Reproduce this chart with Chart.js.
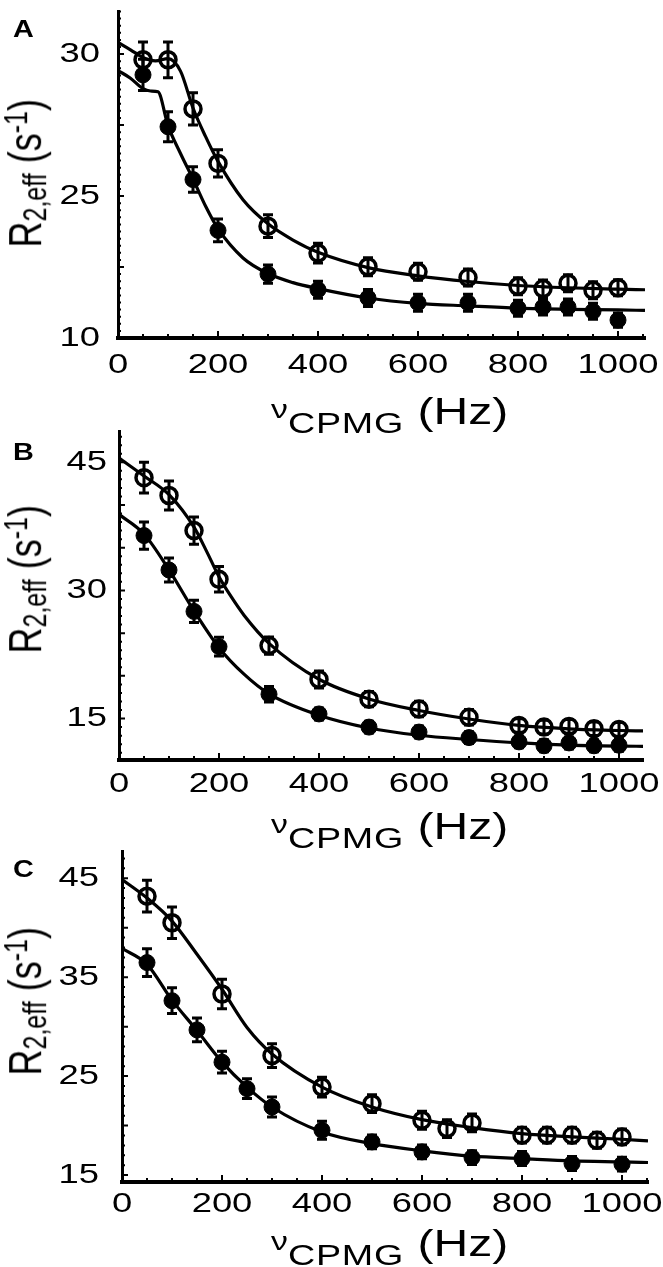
<!DOCTYPE html>
<html lang="en">
<head>
<meta charset="UTF-8">
<title>R2,eff relaxation dispersion</title>
<script src="https://cdn.jsdelivr.net/npm/chart.js"></script>
<style>
  html, body { margin: 0; padding: 0; background: #fff; overflow: hidden; }
  #page { position: relative; width: 663px; height: 1267px; font-family: "Liberation Sans", Arial, sans-serif; color: #000; }
  canvas { position: absolute; left: 0; }
  .letter { position: absolute; left: 13px; font-size: 24px; line-height: 1; font-weight: bold; transform: scaleX(1.2); transform-origin: 0 0; }
  .ytitle { position: absolute; left: 42px; display: flex; align-items: baseline; white-space: pre; transform-origin: 0 30.5px; transform: rotate(-90deg) scaleY(1.3); }
  .ytitle span { line-height: 1; font-size: 36px; }
  .ytitle .sub { font-size: 25px; position: relative; top: 4px; }
  .ytitle .sup { font-size: 25px; position: relative; top: -11px; }
  .xtitle { position: absolute; left: 271px; display: flex; align-items: baseline; white-space: pre; transform-origin: 0 0; transform: scaleX(1.3); }
  .xtitle span { line-height: 1; font-size: 37px; }
  .xtitle .nu { font-size: 26px; position: relative; top: -6px; }
  .xtitle .sub { font-size: 29px; letter-spacing: 0.6px; position: relative; top: 9px; }
</style>
</head>
<body>
<div id="page">
  <canvas id="chartA" width="663" height="400" style="top:0px"></canvas>
  <canvas id="chartB" width="663" height="400" style="top:420px"></canvas>
  <canvas id="chartC" width="663" height="400" style="top:840px"></canvas>

  <div class="letter" style="top:16.7px">A</div>
  <div class="letter" style="top:439.7px">B</div>
  <div class="letter" style="top:856.7px">C</div>

  <div class="ytitle" style="top:216.5px"><span>R</span><span class="sub">2,eff</span><span> (s</span><span class="sup">-1</span><span>)</span></div>
  <div class="ytitle" style="top:622.5px"><span>R</span><span class="sub">2,eff</span><span> (s</span><span class="sup">-1</span><span>)</span></div>
  <div class="ytitle" style="top:1044.5px"><span>R</span><span class="sub">2,eff</span><span> (s</span><span class="sup">-1</span><span>)</span></div>

  <div class="xtitle" style="top:392.7px"><span class="nu">ν</span><span class="sub">CPMG</span><span> (Hz)</span></div>
  <div class="xtitle" style="top:807.7px"><span class="nu">ν</span><span class="sub">CPMG</span><span> (Hz)</span></div>
  <div class="xtitle" style="top:1224.7px"><span class="nu">ν</span><span class="sub">CPMG</span><span> (Hz)</span></div>
</div>
<script>
  // measured CPMG frequencies (Hz)
  const hzAll = [50, 100, 150, 200, 300, 400, 500, 600, 700, 800, 850, 900, 950, 1000];
  const hzOpenC = [50, 100, 200, 300, 400, 500, 600, 650, 700, 800, 850, 900, 950, 1000];
  const hzFilledC = [50, 100, 150, 200, 250, 300, 400, 500, 600, 700, 800, 900, 1000];

  // panel A data (open / filled circles) and errors
  const openA = [29.80, 29.80, 28.07, 26.15, 23.94, 22.99, 22.51, 22.33, 22.13, 21.82, 21.74, 21.93, 21.68, 21.77];
  const openErrA = [0.63, 0.63, 0.57, 0.48, 0.4, 0.35, 0.32, 0.3, 0.3, 0.3, 0.3, 0.3, 0.3, 0.28];
  const filledA = [29.27, 27.44, 25.58, 23.79, 22.25, 21.70, 21.41, 21.24, 21.24, 21.05, 21.09, 21.09, 20.94, 20.63];
  const filledErrA = [0.55, 0.53, 0.45, 0.4, 0.32, 0.3, 0.3, 0.3, 0.3, 0.28, 0.28, 0.28, 0.28, 0.25];

  // panel B
  const openB = [43.19, 41.11, 37.0, 31.3, 23.54, 19.58, 17.27, 16.12, 15.15, 14.19, 14.0, 14.08, 13.81, 13.73];
  const openErrB = [1.8, 1.7, 1.6, 1.5, 1.0, 1.0, 0.9, 0.9, 0.9, 0.8, 0.8, 0.8, 0.8, 0.8];
  const filledB = [36.42, 32.39, 27.54, 23.42, 17.85, 15.54, 14.0, 13.42, 12.77, 12.27, 11.81, 12.15, 11.81, 11.88];
  const filledErrB = [1.6, 1.4, 1.3, 1.1, 0.9, 0.7, 0.7, 0.7, 0.7, 0.7, 0.7, 0.7, 0.7, 0.7];

  // panel C
  const openC = [43.19, 40.5, 33.3, 27.08, 23.89, 22.22, 20.54, 19.70, 20.27, 19.03, 19.03, 19.03, 18.52, 18.86];
  const openErrC = [1.6, 1.6, 1.5, 1.2, 1.0, 0.9, 0.9, 0.9, 0.9, 0.8, 0.8, 0.8, 0.8, 0.8];
  const filledC = [36.47, 32.62, 29.67, 26.41, 23.73, 21.88, 19.53, 18.35, 17.34, 16.77, 16.67, 16.17, 16.1];
  const filledErrC = [1.4, 1.3, 1.2, 1.1, 1.0, 1.0, 0.9, 0.7, 0.7, 0.7, 0.7, 0.7, 0.7];

  // fitted curves
  const fitHzOpenA = [0, 25, 50, 75, 100, 125, 150, 175, 200, 250, 300, 350, 400, 500, 600, 700, 800, 900, 1000, 1054];
  const fitOpenA = [30.41, 30.15, 29.88, 29.76, 29.84, 29.4, 28.1, 27.1, 26.22, 24.87, 24.02, 23.45, 23.02, 22.48, 22.19, 21.99, 21.85, 21.77, 21.72, 21.70];
  const fitHzFilledA = [0, 25, 50, 65, 80, 100, 125, 150, 175, 200, 250, 300, 350, 400, 500, 600, 700, 800, 900, 1000, 1054];
  const fitFilledA = [29.42, 29.15, 28.78, 28.70, 28.67, 27.48, 26.5, 25.6, 24.65, 23.85, 22.82, 22.27, 21.95, 21.74, 21.41, 21.22, 21.13, 21.05, 21.01, 20.99, 20.97];

  const fitHzOpenB = [0, 50, 100, 150, 175, 200, 225, 250, 300, 400, 500, 600, 700, 800, 900, 1000, 1050];
  const fitOpenB = [45.5, 43.4, 41.2, 37.4, 34.6, 31.6, 29.2, 27.1, 23.8, 19.6, 17.3, 15.95, 14.95, 14.2, 13.8, 13.6, 13.55];
  const fitHzFilledB = [0, 50, 100, 150, 200, 250, 300, 400, 500, 600, 700, 800, 900, 1000, 1050];
  const fitFilledB = [38.9, 36.6, 32.4, 27.6, 23.3, 20.2, 17.9, 15.4, 13.9, 13.05, 12.55, 12.15, 11.9, 11.78, 11.75];

  const fitHzC = [0, 50, 100, 150, 200, 250, 300, 400, 500, 600, 700, 800, 900, 1000, 1052];
  const fitOpenC = [44.87, 43.0, 40.67, 37.31, 33.78, 29.92, 27.24, 23.89, 21.88, 20.6, 19.8, 19.19, 18.86, 18.62, 18.45];
  const fitFilledC = [37.9, 36.3, 32.68, 29.6, 26.41, 23.89, 21.88, 19.36, 18.18, 17.45, 16.91, 16.67, 16.44, 16.33, 16.27];

  // tick labels
  const xTickVals = [0, 200, 400, 600, 800, 1000];
  const yTickValsA = [20, 25, 30];
  const yTickTextA = ['10', '25', '30'];
  const yTickValsB = [15, 30, 45];
  const yTickTextB = ['15', '30', '45'];
  const yTickValsC = [15, 25, 35, 45];
  const yTickTextC = ['15', '25', '35', '45'];

  const FONT = '28px "Liberation Sans", Arial, sans-serif';
  const STRETCH = 1.3;

  function pts(xs, ys) {
    return xs.map((x, i) => ({ x: x, y: ys[i] }));
  }

  function stretchedText(ctx, text, x, y, align, baseline) {
    ctx.save();
    ctx.translate(x, y);
    ctx.scale(STRETCH, 1);
    ctx.textAlign = align;
    ctx.textBaseline = baseline;
    ctx.fillText(text, 0, 0);
    ctx.restore();
  }

  // error bars, inward ticks and stretched tick labels
  const decor = {
    id: 'decor',
    afterDatasetsDraw(chart) {
      const { ctx, scales: { x, y } } = chart;
      ctx.save();
      ctx.strokeStyle = '#000';
      ctx.lineWidth = 3;
      chart.data.datasets.forEach(ds => {
        if (!ds.errors) return;
        ds.data.forEach((p, j) => {
          const e = ds.errors[j];
          const px = x.getPixelForValue(p.x);
          const top = y.getPixelForValue(p.y + e);
          const bot = y.getPixelForValue(p.y - e);
          ctx.beginPath();
          ctx.moveTo(px, top); ctx.lineTo(px, bot);
          ctx.moveTo(px - 5, top); ctx.lineTo(px + 5, top);
          ctx.moveTo(px - 5, bot); ctx.lineTo(px + 5, bot);
          ctx.stroke();
        });
      });
      ctx.restore();
    },
    afterDraw(chart, args, o) {
      const { ctx, chartArea: a, scales: { x, y } } = chart;
      ctx.save();
      ctx.strokeStyle = '#000';
      ctx.lineWidth = 2;
      ctx.beginPath();
      for (let v = 0; v <= x.max + 1e-6; v += o.xMinor) {
        const px = x.getPixelForValue(v);
        const len = v % o.xMajor === 0 ? 7 : 4;
        ctx.moveTo(px, a.bottom); ctx.lineTo(px, a.bottom - len);
      }
      for (let v = Math.ceil(y.min / o.yMinor) * o.yMinor; v <= y.max + 1e-6; v += o.yMinor) {
        const py = y.getPixelForValue(v);
        const r = v / o.yMajor;
        const len = Math.abs(r - Math.round(r)) < 1e-6 ? 6 : 3;
        ctx.moveTo(a.left, py); ctx.lineTo(a.left + len, py);
      }
      ctx.stroke();

      ctx.fillStyle = '#000';
      ctx.font = FONT;
      xTickVals.forEach(v => {
        stretchedText(ctx, String(v), x.getPixelForValue(v), a.bottom + o.xBase, 'center', 'alphabetic');
      });
      o.yVals.forEach((v, i) => {
        stretchedText(ctx, o.yText[i], a.left - o.yGap, y.getPixelForValue(v), 'right', 'middle');
      });
      ctx.restore();
    }
  };

  function makePanel(id, p) {
    new Chart(document.getElementById(id), {
      type: 'scatter',
      data: {
        datasets: [
          {
            data: pts(p.openHz, p.open), errors: p.openErr,
            pointStyle: 'circle', pointRadius: 8, borderWidth: 3.5,
            borderColor: '#000', backgroundColor: 'rgba(0,0,0,0)'
          },
          {
            data: pts(p.filledHz, p.filled), errors: p.filledErr,
            pointStyle: 'circle', pointRadius: 8, borderWidth: 1,
            borderColor: '#000', backgroundColor: '#000'
          },
          {
            type: 'line', data: pts(p.fitHzOpen, p.fitOpen),
            borderColor: '#000', borderWidth: 3.2, pointRadius: 0,
            cubicInterpolationMode: 'monotone', fill: false
          },
          {
            type: 'line', data: pts(p.fitHzFilled, p.fitFilled),
            borderColor: '#000', borderWidth: 3.2, pointRadius: 0,
            cubicInterpolationMode: 'monotone', fill: false
          }
        ]
      },
      options: {
        responsive: false,
        animation: false,
        devicePixelRatio: 1,
        events: [],
        layout: { padding: p.pad },
        plugins: {
          legend: { display: false },
          tooltip: { enabled: false },
          decor: {
            xMinor: 50, xMajor: 200, xBase: p.xBase,
            yMinor: p.yMinor, yMajor: p.yMajor,
            yVals: p.yVals, yText: p.yText, yGap: p.yGap
          }
        },
        scales: {
          x: {
            type: 'linear', min: 0, max: p.xMax,
            grid: { display: true, drawOnChartArea: false, drawTicks: false },
            border: { display: true, color: '#000', width: 4 },
            ticks: { display: false },
            afterFit: s => { s.height = 0; }
          },
          y: {
            type: 'linear', min: p.yMin, max: p.yMax,
            grid: { display: true, drawOnChartArea: false, drawTicks: false },
            border: { display: true, color: '#000', width: 3 },
            ticks: { display: false },
            afterFit: s => { s.width = 0; }
          }
        }
      },
      plugins: [decor]
    });
  }

  makePanel('chartA', {
    openHz: hzAll, open: openA, openErr: openErrA,
    filledHz: hzAll, filled: filledA, filledErr: filledErrA,
    fitHzOpen: fitHzOpenA, fitOpen: fitOpenA, fitHzFilled: fitHzFilledA, fitFilled: fitFilledA,
    pad: { left: 118, right: 18, top: 3, bottom: 62 },
    xMax: 1054, yMin: 20, yMax: 31.5, yMinor: 0.25, yMajor: 2.5,
    yVals: yTickValsA, yText: yTickTextA, yGap: 18, xBase: 35
  });

  makePanel('chartB', {
    openHz: hzAll, open: openB, openErr: openErrB,
    filledHz: hzAll, filled: filledB, filledErr: filledErrB,
    fitHzOpen: fitHzOpenB, fitOpen: fitOpenB, fitHzFilled: fitHzFilledB, fitFilled: fitFilledB,
    pad: { left: 119, right: 20, top: 7, bottom: 60 },
    xMax: 1048, yMin: 10.15, yMax: 48.6, yMinor: 1, yMajor: 5,
    yVals: yTickValsB, yText: yTickTextB, yGap: 12, xBase: 32
  });

  makePanel('chartC', {
    openHz: hzOpenC, open: openC, openErr: openErrC,
    filledHz: hzFilledC, filled: filledC, filledErr: filledErrC,
    fitHzOpen: fitHzC, fitOpen: fitOpenC, fitHzFilled: fitHzC, fitFilled: fitFilledC,
    pad: { left: 122, right: 15, top: 10, bottom: 58 },
    xMax: 1052, yMin: 14.3, yMax: 47.7, yMinor: 1, yMajor: 5,
    yVals: yTickValsC, yText: yTickTextC, yGap: 23, xBase: 30
  });
</script>
</body>
</html>
